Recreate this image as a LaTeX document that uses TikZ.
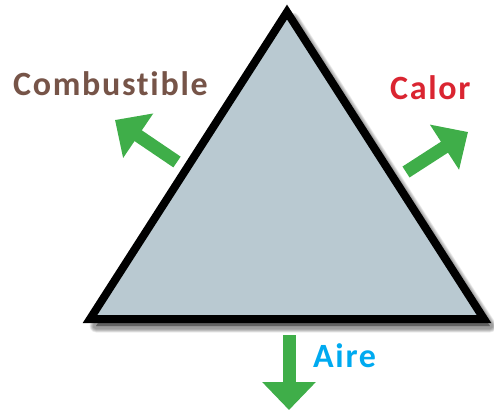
\documentclass[tikz,border=0pt]{standalone}
\usepackage{fontspec}
\setmainfont{Carlito}[Ligatures=NoCommon, LetterSpace=5]
\usetikzlibrary{arrows.meta}
\definecolor{trifill}{RGB}{185,201,209}
\definecolor{flechagreen}{RGB}{63,174,73}
\definecolor{combcol}{RGB}{118,84,72}
\definecolor{calorcol}{RGB}{218,37,49}
\definecolor{airecol}{RGB}{0,170,240}

\begin{document}
\begin{tikzpicture}[x=1pt, y=-1pt,
  flecha/.style={flechagreen, line width=13pt, -{Triangle[width=52pt, length=28pt]}},
  etiqueta/.style={anchor=base west, inner sep=0pt, font=\fontsize{34}{40}\selectfont\bfseries}]
  \useasboundingbox (0,0) rectangle (494,413);
  % Shadow
  \begin{scope}[shift={(6,7)}]
    \foreach \s in {1,...,8}
      \draw[black, opacity=0.06, line width={(14-\s)*1pt}, line join=round, fill=black]
        (287,12) -- (484,319) -- (90,319) -- cycle;
  \end{scope}
  % Triangle
  \draw[line width=8pt, fill=trifill]
    (287,12) -- (484,319) -- (90,319) -- cycle;
  % Labels
  \node[etiqueta, text=combcol] (comb) at (13,95) {Combustible};
  \node[etiqueta, text=calorcol] (calor) at (390,99) {Calor};
  \node[etiqueta, text=airecol] (aire) at (313,367) {Aire};
  % Arrows
  \coordinate (combtail) at (177,162);
  \coordinate (combtip) at (115,120);
  \coordinate (calortail) at (406,172);
  \coordinate (calortip) at (468,132);
  \coordinate (airetail) at (289,335);
  \coordinate (airetip) at (289,410);
  \draw[flecha] (combtail) -- (combtip);
  \draw[flecha] (calortail) -- (calortip);
  \draw[flecha] (airetail) -- (airetip);
\end{tikzpicture}
\end{document}
